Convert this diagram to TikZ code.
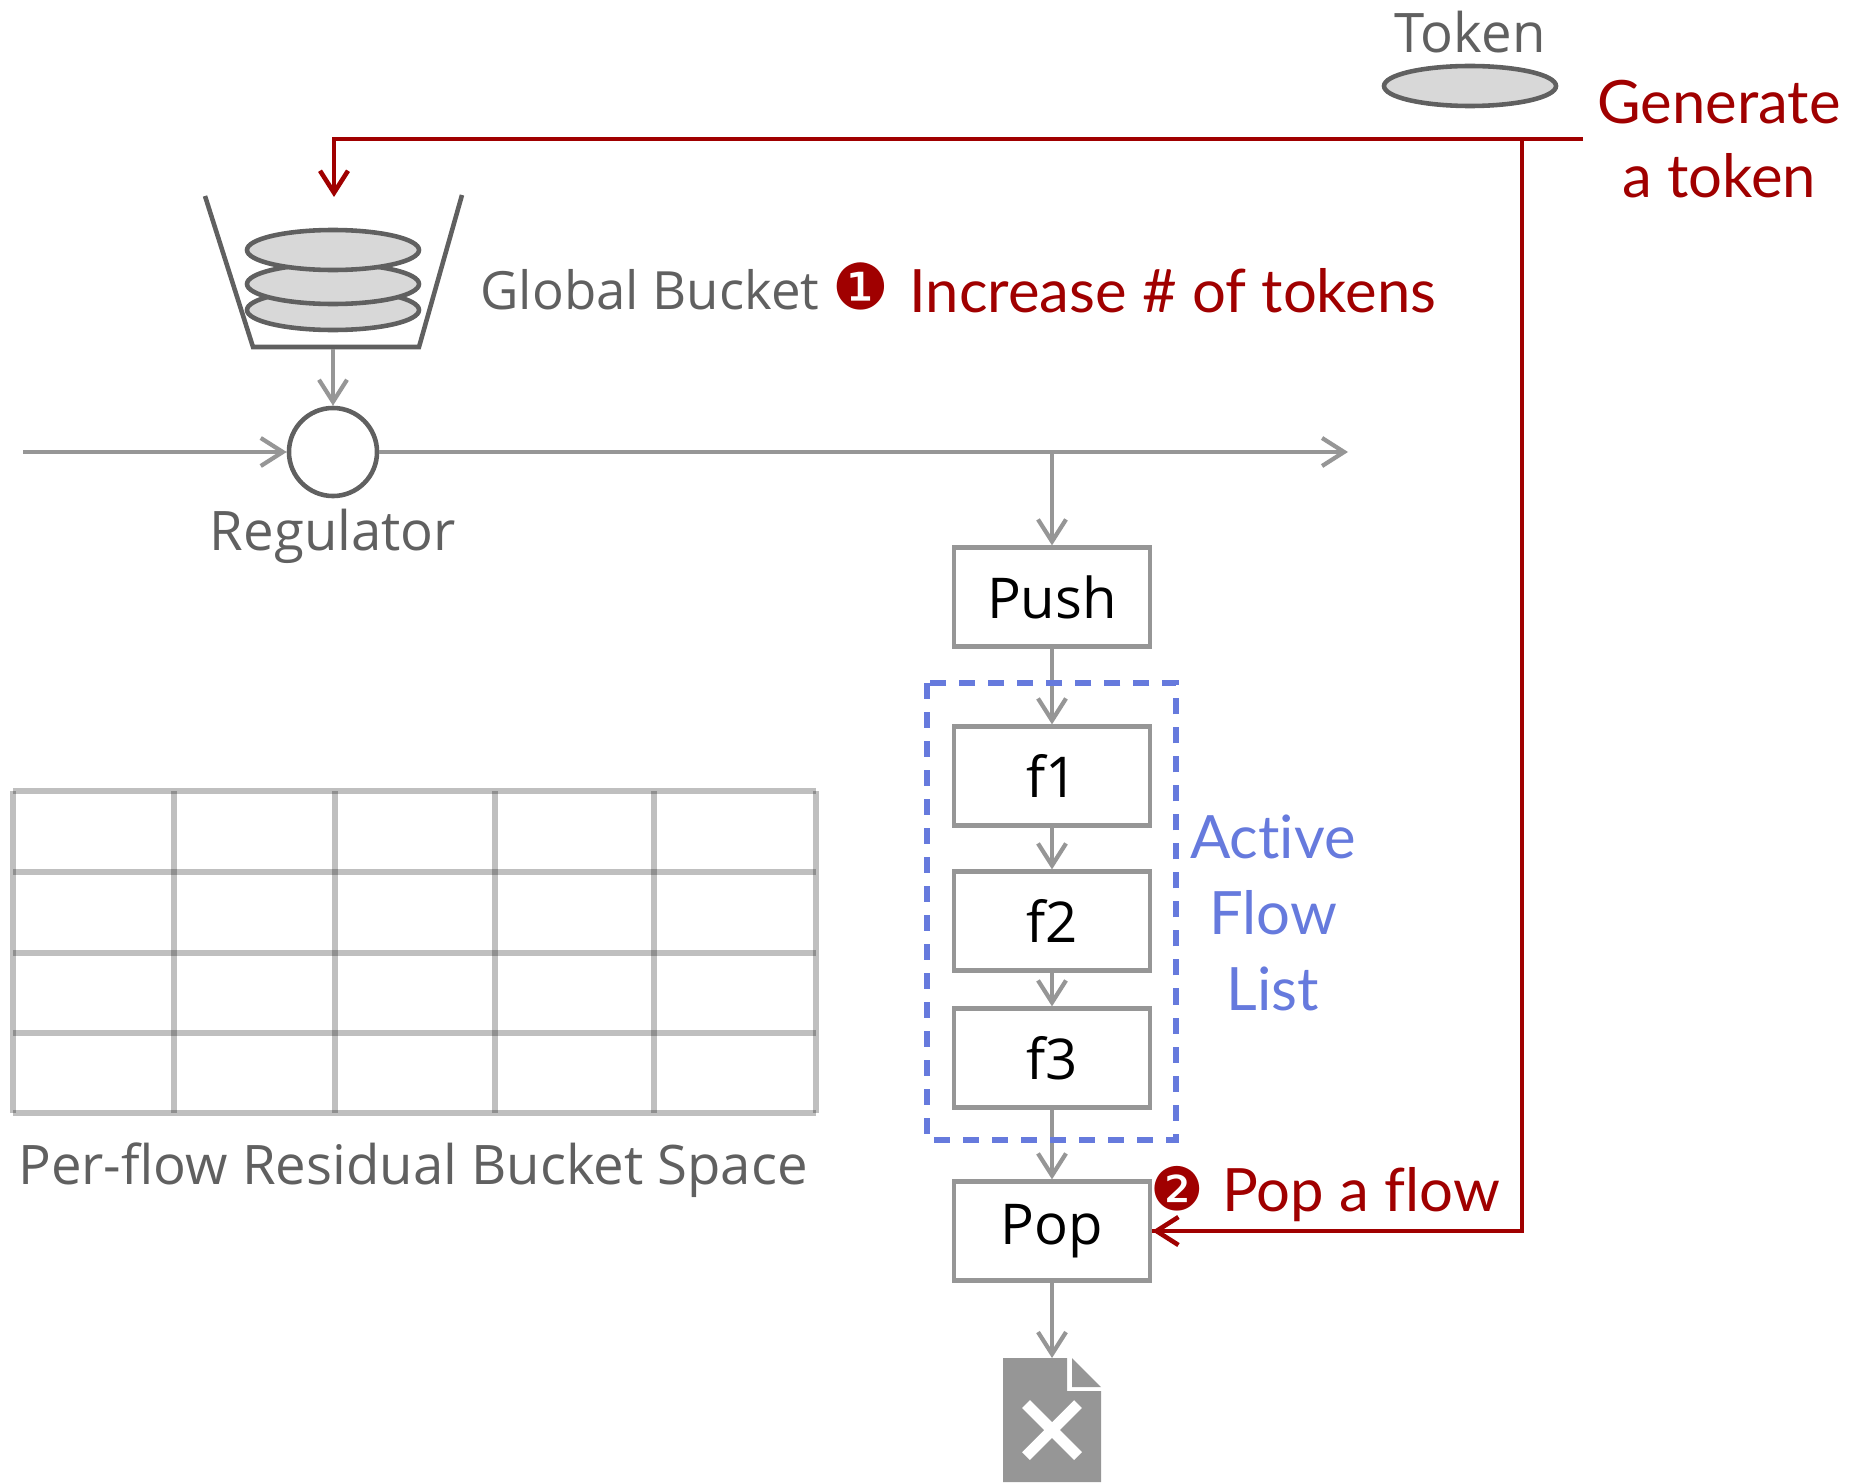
\documentclass[tikz,border=0pt]{standalone}
\usepackage{fontspec}
\setmainfont{Lato}[Ligatures={NoCommon}]
\newfontfamily\handfont{Open Sans}
\newfontfamily\dingfont{DejaVu Sans}
\usetikzlibrary{arrows.meta}

\definecolor{markred}{RGB}{160,0,0}
\definecolor{listblue}{RGB}{102,122,221}
\definecolor{linegray}{RGB}{150,150,150}
\definecolor{inkgray}{RGB}{96,96,96}
\definecolor{tokenfill}{RGB}{216,216,216}

\begin{document}
\begin{tikzpicture}[x=0.01cm, y=-0.01cm,
    box/.style={draw=linegray, line width=1.2pt, minimum width=1.96cm, minimum height=0.99cm,
      font=\handfont\fontsize{16}{16}\selectfont},
    flow/.style={linegray, line width=1.2pt, -{Straight Barb[length=0.22cm, width=0.28cm]}},
    ctrl/.style={markred, line width=1.3pt, -{Straight Barb[length=0.22cm, width=0.28cm]}},
    disk/.style={draw=inkgray, fill=tokenfill, line width=1.3pt},
    hand/.style={text=inkgray, font=\handfont\fontsize{15.5}{15.5}\selectfont},
    note/.style={text=markred, font=\fontsize{17}{21}\selectfont},
    gridline/.style={draw=black, draw opacity=0.25, line width=0.06cm}]
  \useasboundingbox (0,0) rectangle (1849,1482);

  % token and bucket
  \draw[disk] (1470,86) ellipse [x radius=86, y radius=20];
  \node[hand, anchor=base] (tokenlbl) at (1470,53) {Token};
  \draw[disk] (333,310) ellipse [x radius=86, y radius=20];
  \draw[disk] (333,284) ellipse [x radius=86, y radius=20];
  \draw[disk] (333,250) ellipse [x radius=86, y radius=20];
  \draw[inkgray, line width=1.3pt] (205,196) -- (253,347) -- (419,347) -- (462,195);
  \coordinate (bucket) at (333,349);
  \coordinate (bucketin) at (334,197);
  \node[hand, font=\handfont\fontsize{15}{15}\selectfont, anchor=base west] (gblbl) at (468,309) {Global Bucket};
  \node[text=markred, font=\dingfont\fontsize{18}{18}\selectfont, anchor=base] (one) at (861,309) {❶};
  \node[note, anchor=base west] (inctxt) at (897,312) {Increase \# of tokens};

  % regulator
  \node[circle, draw=inkgray, line width=1.3pt, minimum size=0.88cm, inner sep=0pt] (reg) at (333,452) {};
  \node[hand, anchor=base] (reglbl) at (333,550) {Regulator};
  \coordinate (in) at (23,452);
  \coordinate (out) at (1348,452);
  \coordinate (split) at (1052,452);
  \draw[flow] (bucket) -- (reg);
  \draw[flow] (in) -- (reg);
  \draw[flow] (reg) -- (out);

  % active flow list
  \node[box] (push) at (1052,597) {Push};
  \node[box] (f1) at (1052,776) {f1};
  \node[box] (f2) at (1052,921) {f2};
  \node[box] (f3) at (1052,1058) {f3};
  \node[box] (pop) at (1052,1231) {Pop};
  \draw[flow] (split) -- (push);
  \draw[flow] (push) -- (f1);
  \draw[flow] (f1) -- (f2);
  \draw[flow] (f2) -- (f3);
  \draw[flow] (f3) -- (pop);
  \draw[listblue, line width=0.055cm, dash pattern=on 0.16cm off 0.13cm] (927,683) rectangle (1176,1140);
  \node[text=listblue, font=\fontsize{17}{21.6}\selectfont, align=center, anchor=base] (afl) at (1273,1010)
    {Active\\Flow\\List};

  % dropped packet
  \coordinate (doc) at (1052,1358);
  \draw[flow] (pop) -- (doc);
  \fill[linegray] (1003,1358) -- (1067,1358) -- (1067,1391) -- (1101,1391) -- (1101,1482) -- (1003,1482) -- cycle;
  \fill[linegray] (1072,1358) -- (1101,1387) -- (1072,1387) -- cycle;
  \draw[white, line width=0.11cm] (1026,1404) -- (1078,1456) (1078,1404) -- (1026,1456);

  % token generation
  \node[note, align=center, anchor=base] (gentxt) at (1719,197) {Generate\\a token};
  \coordinate (gen) at (1583,139);
  \coordinate (tee) at (1522,139);
  \draw[ctrl] (gen) -| (bucketin);
  \draw[markred, line width=1.3pt] (tee) |- (pop);
  \draw[ctrl] (1522,1231) -- (pop);
  \node[text=markred, font=\dingfont\fontsize{17}{17}\selectfont, anchor=base] (two) at (1177,1210) {❷};
  \node[note, anchor=base west] (poptxt) at (1210,1211) {Pop a flow};

  % residual bucket space
  \foreach \x in {13,174,335,495,654,816}
    \draw[gridline] (\x,791) -- (\x,1113);
  \foreach \y in {791,872,953,1033,1113}
    \draw[gridline] (13,\y) -- (816,\y);
  \node[hand, anchor=base] (spacelbl) at (413,1184) {Per-flow Residual Bucket Space};
\end{tikzpicture}
\end{document}
